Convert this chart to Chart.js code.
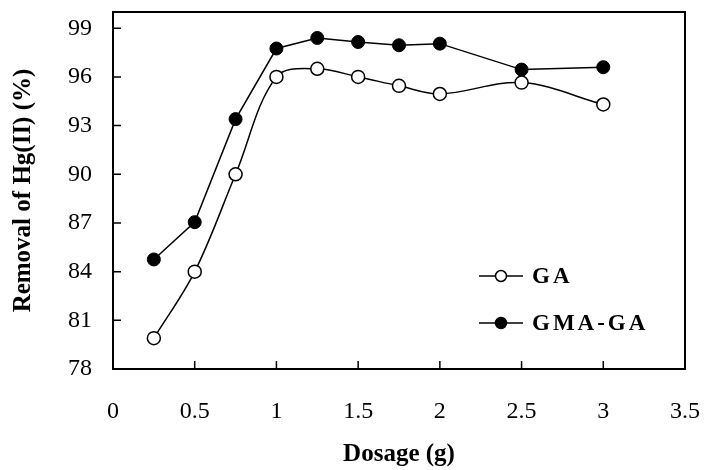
<!DOCTYPE html>
<html>
<head>
<meta charset="utf-8">
<script src="https://cdn.jsdelivr.net/npm/chart.js@4"></script>
<style>
  html, body { margin: 0; padding: 0; background: #fff; }
  #wrap { width: 704px; height: 470px; }
</style>
</head>
<body>
<div id="wrap"><canvas id="hg-chart" width="704" height="470"></canvas></div>
<script>
const dosage       = [0.25, 0.5, 0.75, 1.0, 1.25, 1.5, 1.75, 2.0, 2.5, 3.0];
const gaRemoval    = [79.9, 84.0, 90.0, 96.0, 96.5, 96.0, 95.45, 94.95, 95.65, 94.3];
const gmaGaRemoval = [84.75, 87.05, 93.4, 97.75, 98.4, 98.15, 97.95, 98.05, 96.45, 96.6];
const seriesNames  = ['GA', 'GMA-GA'];
const xTicks = { min: 0, max: 3.5, step: 0.5 };
const yTicks = { min: 78, max: 100, step: 3 };

const serif = "'Liberation Serif', 'Times New Roman', serif";

const toPoints = (ys) => dosage.map((x, i) => ({ x, y: ys[i] }));

// frame round the plot + tick marks pointing inward
const framePlugin = {
  id: 'frame',
  afterDraw(chart) {
    const { ctx, chartArea: a, scales } = chart;
    ctx.save();
    ctx.strokeStyle = '#000';
    ctx.lineWidth = 2;
    ctx.strokeRect(a.left, a.top, a.right - a.left, a.bottom - a.top);
    ctx.lineWidth = 1.5;
    ctx.beginPath();
    scales.x.ticks.forEach(t => {
      const px = scales.x.getPixelForValue(t.value);
      ctx.moveTo(px, a.bottom);
      ctx.lineTo(px, a.bottom - 8);
    });
    scales.y.ticks.forEach(t => {
      const py = scales.y.getPixelForValue(t.value);
      ctx.moveTo(a.left, py);
      ctx.lineTo(a.left + 8, py);
    });
    ctx.stroke();
    ctx.restore();
  }
};

// legend inside the plot, line-marker-line then label
const legendPlugin = {
  id: 'insideLegend',
  afterDraw(chart) {
    const { ctx, chartArea: a } = chart;
    const x0 = a.right - 206;
    ctx.save();
    chart.data.datasets.forEach((ds, i) => {
      const y = a.top + 264 + i * 47;
      ctx.strokeStyle = '#000';
      ctx.lineWidth = 1.5;
      ctx.beginPath();
      ctx.moveTo(x0, y);
      ctx.lineTo(x0 + 44, y);
      ctx.stroke();
      ctx.beginPath();
      ctx.arc(x0 + 22, y, 5.5, 0, Math.PI * 2);
      ctx.fillStyle = ds.pointBackgroundColor;
      ctx.fill();
      ctx.stroke();
      ctx.fillStyle = '#000';
      ctx.font = 'bold 23px ' + serif;
      ctx.letterSpacing = '3px';
      ctx.textAlign = 'left';
      ctx.textBaseline = 'middle';
      ctx.fillText(ds.label, x0 + 53, y + 1);
    });
    ctx.restore();
  }
};

new Chart(document.getElementById('hg-chart').getContext('2d'), {
  type: 'line',
  data: {
    datasets: [
      {
        label: seriesNames[0],
        data: toPoints(gaRemoval),
        borderColor: '#000',
        borderWidth: 1.5,
        tension: 0.35,
        pointRadius: 6.5,
        pointBackgroundColor: '#fff',
        pointBorderColor: '#000',
        pointBorderWidth: 1.5,
      },
      {
        label: seriesNames[1],
        data: toPoints(gmaGaRemoval),
        borderColor: '#000',
        borderWidth: 1.5,
        tension: 0,
        pointRadius: 6.5,
        pointBackgroundColor: '#000',
        pointBorderColor: '#000',
        pointBorderWidth: 1,
      }
    ]
  },
  options: {
    responsive: false,
    animation: false,
    layout: { padding: { left: 0, right: 19, top: 12, bottom: 0 } },
    plugins: { legend: { display: false }, tooltip: { enabled: false } },
    scales: {
      x: {
        type: 'linear',
        min: xTicks.min,
        max: xTicks.max,
        afterFit: (s) => { s.height = 101; s.paddingLeft = 0; s.paddingRight = 0; },
        border: { display: false },
        grid: { drawOnChartArea: false, drawTicks: false },
        ticks: {
          stepSize: xTicks.step,
          padding: 28,
          color: '#000',
          font: { family: serif, size: 24 },
          maxRotation: 0,
          callback: (v) => String(+v.toFixed(2)),
        },
        title: {
          display: true,
          text: 'Dosage (g)',
          color: '#000',
          font: { family: serif, size: 25, weight: 'bold' },
          padding: { top: 0, bottom: 0 },
        }
      },
      y: {
        min: yTicks.min,
        max: yTicks.max,
        afterFit: (s) => { s.width = 113; s.paddingTop = 0; s.paddingBottom = 0; },
        border: { display: false },
        grid: { drawOnChartArea: false, drawTicks: false },
        ticks: {
          stepSize: yTicks.step,
          includeBounds: false,
          padding: 21,
          color: '#000',
          font: { family: serif, size: 24 },
        },
        title: {
          display: true,
          text: 'Removal of Hg(II) (%)',
          color: '#000',
          font: { family: serif, size: 25, weight: 'bold' },
          padding: { top: 9, bottom: 0 },
        }
      }
    }
  },
  plugins: [framePlugin, legendPlugin]
});
</script>
</body>
</html>
